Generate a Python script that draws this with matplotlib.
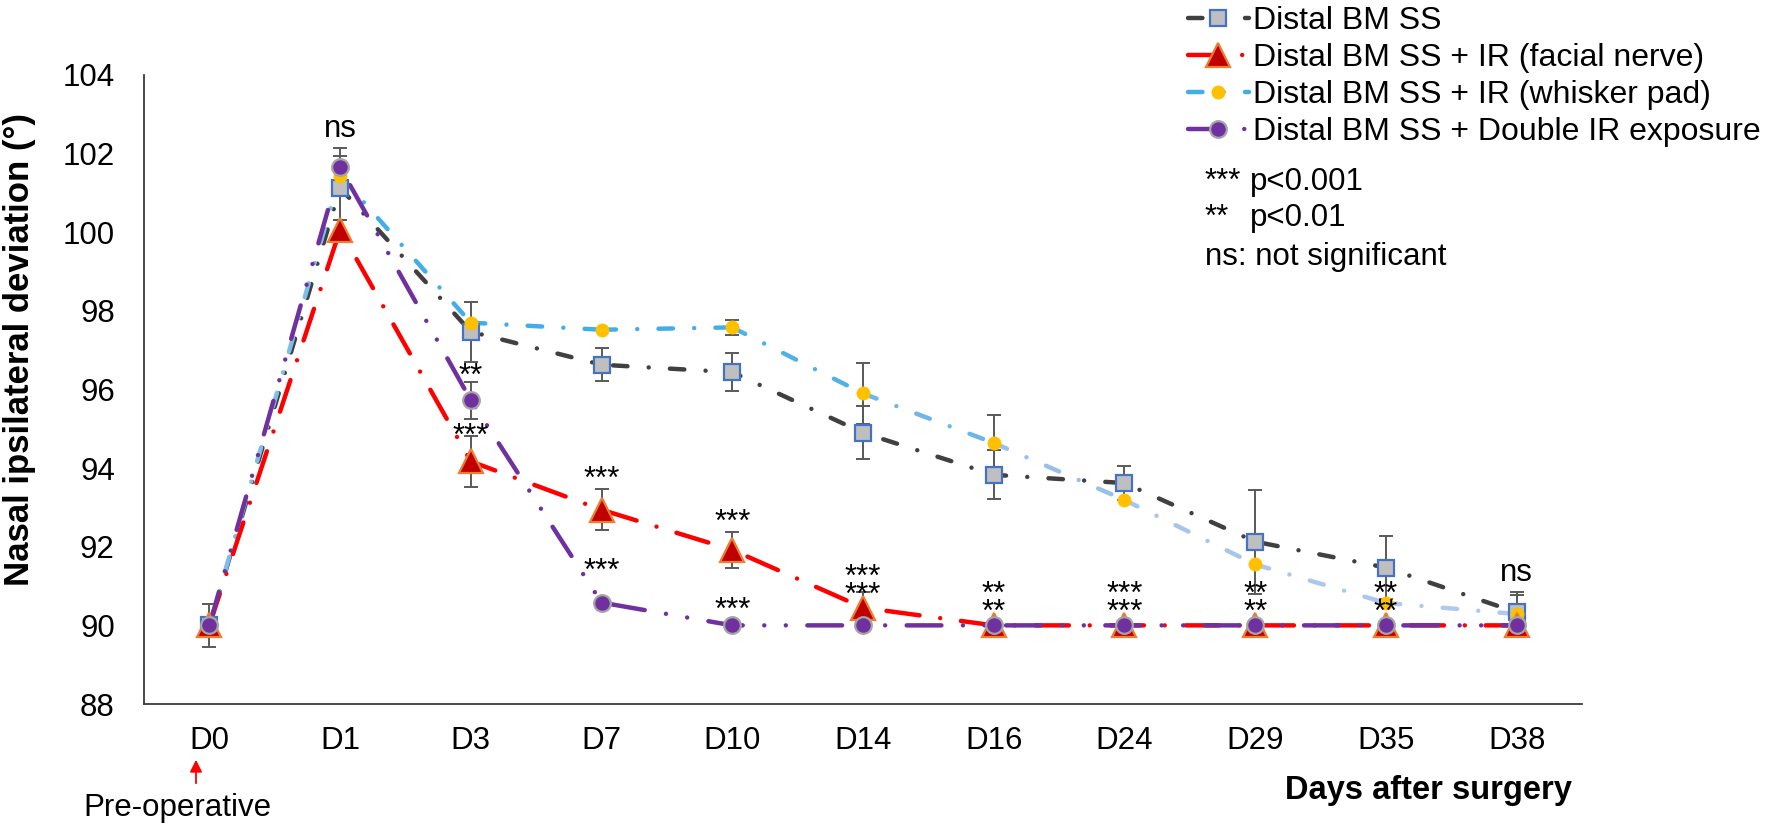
import matplotlib

matplotlib.use("Agg")
import matplotlib.pyplot as plt
import numpy as np
from matplotlib.lines import Line2D

# ---- data ----
days = ["D0", "D1", "D3", "D7", "D10", "D14", "D16", "D24", "D29", "D35", "D38"]

bm_ss = [90.0, 101.13, 97.47, 96.63, 96.44, 94.90, 93.83, 93.62, 92.13, 91.47, 90.33]
bm_ss_err = [0.55, 0.82, 0.76, 0.42, 0.48, 0.68, 0.62, 0.44, 1.32, 0.80, 0.53]

facial = [90.0, 100.06, 94.17, 92.94, 91.92, 90.45, 90.0, 90.0, 90.0, 90.0, 90.0]
facial_err = [0.0, 0.25, 0.65, 0.52, 0.45, 0.40, 0.0, 0.0, 0.0, 0.0, 0.0]

whisker = [90.0, 101.44, 97.70, 97.52, 97.58, 95.90, 94.64, 93.19, 91.55, 90.57, 90.29]
whisker_err = [0.0, 0.0, 0.0, 0.0, 0.20, 0.77, 0.70, 0.0, 0.0, 0.0, 0.47]

double = [90.0, 101.65, 95.73, 90.58, 90.0, 90.0, 90.0, 90.0, 90.0, 90.0, 90.0]
double_err = [0.0, 0.50, 0.47, 0.0, 0.0, 0.0, 0.0, 0.0, 0.0, 0.0, 0.0]

sig_facial = ["", "", "***", "***", "***", "***", "**", "***", "**", "**", ""]
sig_double = ["", "", "**", "***", "***", "***", "**", "***", "**", "**", ""]
sig_all = ["", "ns", "", "", "", "", "", "", "", "", "ns"]

# ---- layout (pixels at dpi 100) ----
W, H = 1772, 832
PT = 72 / 100  # points per pixel

plt.rcParams["font.family"] = ["Liberation Sans", "DejaVu Sans"]
plt.rcParams["lines.scale_dashes"] = False

# baseline offsets (pixels above the anchor value) for the separate marks
star_offset_facial = {2: 17, 3: 22, 4: 19}
star_offset_double = {2: 15, 3: 23, 4: 6}

styles = {
    "bm": dict(color="#404040", dashes=(10.4, 15.3, 0.01, 15.3), marker="s", ms=11.5,
               mfc="#BFBFBF", mec="#4472C4", mew=1.6),
    "facial": dict(color="#FF0000", dashes=(24, 15, 0.01, 15), marker="^", ms=17,
                   mfc="#C00000", mec="#ED7D31", mew=1.6),
    "whisker": dict(color="#41AEE8", dashes=(10.4, 15.3, 0.01, 15.3), marker="o", ms=9.5,
                    mfc="#FFC000", mec="#FFC000", mew=0.5),
    "double": dict(color="#7030A0", dashes=(25, 15.5, 0.01, 15.5, 0.01, 15.5), marker="o", ms=12,
                   mfc="#7030A0", mec="#A5A5A5", mew=1.6),
}
whisker_seg_colors = ["#7DBFEA", "#41AEE8", "#41AEE8", "#41AEE8", "#4FB1E8",
                      "#6DB6E9", "#97C0EB", "#A6C5EC", "#ACC7EE", "#B0C9EE"]
LW = 3.2


def draw_line(ax, x, y, st, color=None, z=3):
    ax.plot(x, y, color=color or st["color"], lw=LW, dashes=st["dashes"],
            dash_capstyle="round", solid_capstyle="round", zorder=z)


def draw_err(ax, x, y, err):
    err = np.asarray(err)
    m = err > 0
    ax.errorbar(x[m], np.asarray(y)[m], yerr=err[m], fmt="none", ecolor="#595959",
                elinewidth=1.4, capsize=5, capthick=1.4, zorder=2)


def draw_markers(ax, x, y, st, z):
    ax.plot(x, y, ls="none", marker=st["marker"], ms=st["ms"], mfc=st["mfc"],
            mec=st["mec"], mew=st["mew"], zorder=z)


def star(ax, i, value, text, dy_px, linespacing=1.0):
    ax.annotate(text, (i, value), xytext=(0, dy_px * PT), textcoords="offset points",
                ha="center", va="baseline", fontsize=22.5, linespacing=linespacing, zorder=10)


def main():
    fig = plt.figure(figsize=(W / 100, H / 100), dpi=100)
    ax = fig.add_axes([144 / W, 1 - 704 / H, (1582 - 144) / W, (704 - 75) / H])
    x = np.arange(len(days))

    # error bars
    for y, e in [(bm_ss, bm_ss_err), (whisker, whisker_err), (facial, facial_err), (double, double_err)]:
        draw_err(ax, x, y, e)

    # lines
    draw_line(ax, x, bm_ss, styles["bm"], z=3)
    for i in range(len(days) - 1):
        draw_line(ax, x[i:i + 2], whisker[i:i + 2], styles["whisker"], color=whisker_seg_colors[i], z=3.1)
    draw_line(ax, x, facial, styles["facial"], z=3.2)
    draw_line(ax, x, double, styles["double"], z=3.3)

    # markers
    draw_markers(ax, x, bm_ss, styles["bm"], 5)
    draw_markers(ax, x, whisker, styles["whisker"], 6)
    draw_markers(ax, x, facial, styles["facial"], 7)
    draw_markers(ax, x, double, styles["double"], 8)

    # significance marks
    for i in range(len(days)):
        if i in star_offset_facial:
            star(ax, i, facial[i], sig_facial[i], star_offset_facial[i])
            star(ax, i, double[i], sig_double[i], star_offset_double[i])
        elif sig_facial[i]:
            # both groups back at baseline: marks stacked tightly in one text
            star(ax, i, facial[i], sig_facial[i] + "\n" + sig_double[i], 4, linespacing=0.49)
        if sig_all[i]:
            top = max(bm_ss[i] + bm_ss_err[i], whisker[i] + whisker_err[i],
                      facial[i] + facial_err[i], double[i] + double_err[i])
            star(ax, i, top, sig_all[i], 11)

    ax.set_xlim(-0.5, len(days) - 0.5)
    ax.set_ylim(88, 104)
    ax.set_yticks(np.arange(88, 105, 2))
    ax.set_xticks(x, days)
    ax.tick_params(axis="both", length=0, labelsize=22.5, labelcolor="black")
    ax.tick_params(axis="x", pad=16)
    ax.tick_params(axis="y", pad=21)
    for side in ("top", "right"):
        ax.spines[side].set_visible(False)
    for side in ("left", "bottom"):
        ax.spines[side].set_color("#3a3a3a")
        ax.spines[side].set_linewidth(1.3)

    fig.text(20 / W, 1 - 350 / H, "Nasal ipsilateral deviation (°)", rotation=90,
             ha="center", va="center", fontsize=25, fontweight="bold")
    fig.text(1572 / W, 1 - 790 / H, "Days after surgery", ha="right", va="center",
             fontsize=23.5, fontweight="bold")

    fig.text(177 / W, 1 - 808 / H, "Pre-operative", ha="center", va="center", fontsize=22.5)
    ax.annotate("", xy=(196 / W, 1 - 757 / H), xytext=(196 / W, 1 - 786 / H),
                xycoords="figure fraction", textcoords="figure fraction",
                arrowprops=dict(arrowstyle="-|>", color="red", lw=1.3, mutation_scale=18))

    # legend
    labels = ["Distal BM SS", "Distal BM SS + IR (facial nerve)",
              "Distal BM SS + IR (whisker pad)", "Distal BM SS + Double IR exposure"]
    handles = []
    for key in ("bm", "facial", "whisker", "double"):
        st = styles[key]
        handles.append(Line2D([], [], color=st["color"], lw=LW, dashes=st["dashes"],
                              dash_capstyle="round", marker=st["marker"], ms=st["ms"],
                              mfc=st["mfc"], mec=st["mec"], mew=st["mew"]))
    fig.legend(handles, labels, loc="upper left", bbox_to_anchor=(1188 / W, 0.993),
               frameon=False, fontsize=23, handlelength=1.9, handletextpad=0.15,
               labelspacing=0.22, borderpad=0, borderaxespad=0, numpoints=1)

    for ypx, stars, ptxt in [(182, "***", "p<0.001"), (218, "**", "p<0.01")]:
        fig.text(1205 / W, 1 - ypx / H, stars, ha="left", va="center", fontsize=22.5)
        fig.text(1250 / W, 1 - ypx / H, ptxt, ha="left", va="center", fontsize=22.5)
    fig.text(1205 / W, 1 - 257 / H, "ns: not significant", ha="left", va="center", fontsize=22.5)

    fig.savefig("out.png", dpi=100)
    plt.close(fig)


if __name__ == "__main__":
    main()
